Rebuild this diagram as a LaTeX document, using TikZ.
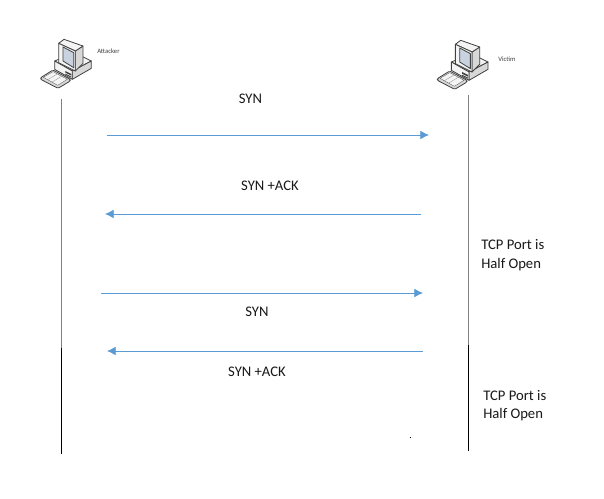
\documentclass[tikz,border=0pt]{standalone}
\usepackage{fontspec}
\setmainfont{Carlito}
\usetikzlibrary{arrows.meta,calc}
\definecolor{arrowblue}{HTML}{5B9BD5}
\definecolor{lifegray}{HTML}{808080}
\definecolor{iconline}{HTML}{404040}
\definecolor{iconscreen}{HTML}{C9D3E0}
\definecolor{iconbody}{HTML}{F4F4F4}
\definecolor{iconside}{HTML}{D8D8D8}
\tikzset{
  msg/.style={draw=arrowblue,line width=0.6pt,-{Latex[length=6.5pt,width=6.5pt]}},
  lifetop/.style={draw=lifegray,line width=0.9pt},
  lifebot/.style={draw=black,line width=0.8pt},
  lbl/.style={font=\fontsize{11}{13}\selectfont,inner sep=0pt,text=black!90},
  tiny/.style={font=\fontsize{5}{6}\selectfont,inner sep=0pt,anchor=west,text=black!75},
  ic/.style={draw=iconline,line width=0.6pt,line join=round},
  pics/computer/.style={code={
    % keyboard
    \draw[ic,fill=iconside,rounded corners=1pt] (8,125) -- (45,102) -- (97,130) -- (97,135) -- (60,157) -- (8,130) -- cycle;
    \draw[draw=iconline,fill=iconbody,line width=0.2pt] (16,124) -- (45,107) -- (88,130) -- (59,148) -- cycle;
    \foreach \t in {.3,.6}{\draw[draw=gray,line width=0.2pt] ($(16,124)!\t!(59,148)$) -- ($(45,107)!\t!(88,130)$);}
    % base
    \draw[ic,fill=iconbody] (50,75) -- (103,105) -- (160,75) -- (110,50) -- cycle;
    \draw[ic,fill=iconside] (103,105) -- (160,75) -- (160,97) -- (103,130) -- cycle;
    \draw[ic,fill=iconbody] (50,75) -- (103,105) -- (103,130) -- (50,100) -- cycle;
    \fill[iconline] (82,105) -- (100,114) -- (100,119) -- (82,110) -- cycle;
    \fill[iconline] (82,113) -- (100,122) -- (100,125) -- (82,116) -- cycle;
    % monitor
    \draw[ic,fill=iconside] (112,45) -- (135,30) -- (135,82) -- (112,105) -- cycle;
    \draw[ic,fill=iconbody] (62,22) -- (78,10) -- (135,30) -- (112,45) -- cycle;
    \draw[ic,fill=iconbody] (62,22) -- (112,45) -- (112,105) -- (62,80) -- cycle;
    \draw[ic,fill=iconscreen] (75,33) -- (107,50) -- (107,95) -- (75,75) -- cycle;
  }}
}
\begin{document}
\begin{tikzpicture}[x=0.75pt,y=-0.75pt]
\useasboundingbox[fill=white] (0,0) rectangle (604,499);
% icons
\pic[scale=0.3333] at (38,36) {computer};
\pic[scale=0.3333] at (434.7,37) {computer};
\node[tiny] (attacker) at (97,51) {Attacker};
\node[tiny] (victim) at (498,59) {Victim};
% lifelines
\coordinate (a0) at (61.5,99);
\coordinate (a1) at (61.5,348);
\coordinate (a2) at (61.5,454);
\coordinate (v0) at (468.5,95);
\coordinate (v1) at (468.5,345);
\coordinate (v2) at (468.5,451);
\draw[lifetop] (a0) -- (a1);
\draw[lifebot] (a1) -- (a2);
\draw[lifetop] (v0) -- (v1);
\draw[lifebot] (v1) -- (v2);
% messages
\coordinate (m1s) at (107,135);
\coordinate (m1e) at (429,135);
\coordinate (m2s) at (421,214);
\coordinate (m2e) at (105,214);
\coordinate (m3s) at (101,293);
\coordinate (m3e) at (423,293);
\coordinate (m4s) at (423,351);
\coordinate (m4e) at (107,351);
\draw[msg] (m1s) -- (m1e);
\draw[msg] (m2s) -- (m2e);
\draw[msg] (m3s) -- (m3e);
\draw[msg] (m4s) -- (m4e);
% labels
\node[lbl] (l1) at (250.5,98.5) {SYN};
\node[lbl] (l2) at (270,185.5) {SYN +ACK};
\node[lbl] (l3) at (257,311.5) {SYN};
\node[lbl] (l4) at (257,371.5) {SYN +ACK};
\node[lbl,anchor=west] (h1a) at (481,244.5) {TCP Port is};
\node[lbl,anchor=west] (h1b) at (481,265) {Half Open};
\node[lbl,anchor=west] (h2a) at (483,395.5) {TCP Port is};
\node[lbl,anchor=west] (h2b) at (483,415) {Half Open};
% speck
\fill[black] (410,436.5) rectangle (411,438);
\end{tikzpicture}
\end{document}
